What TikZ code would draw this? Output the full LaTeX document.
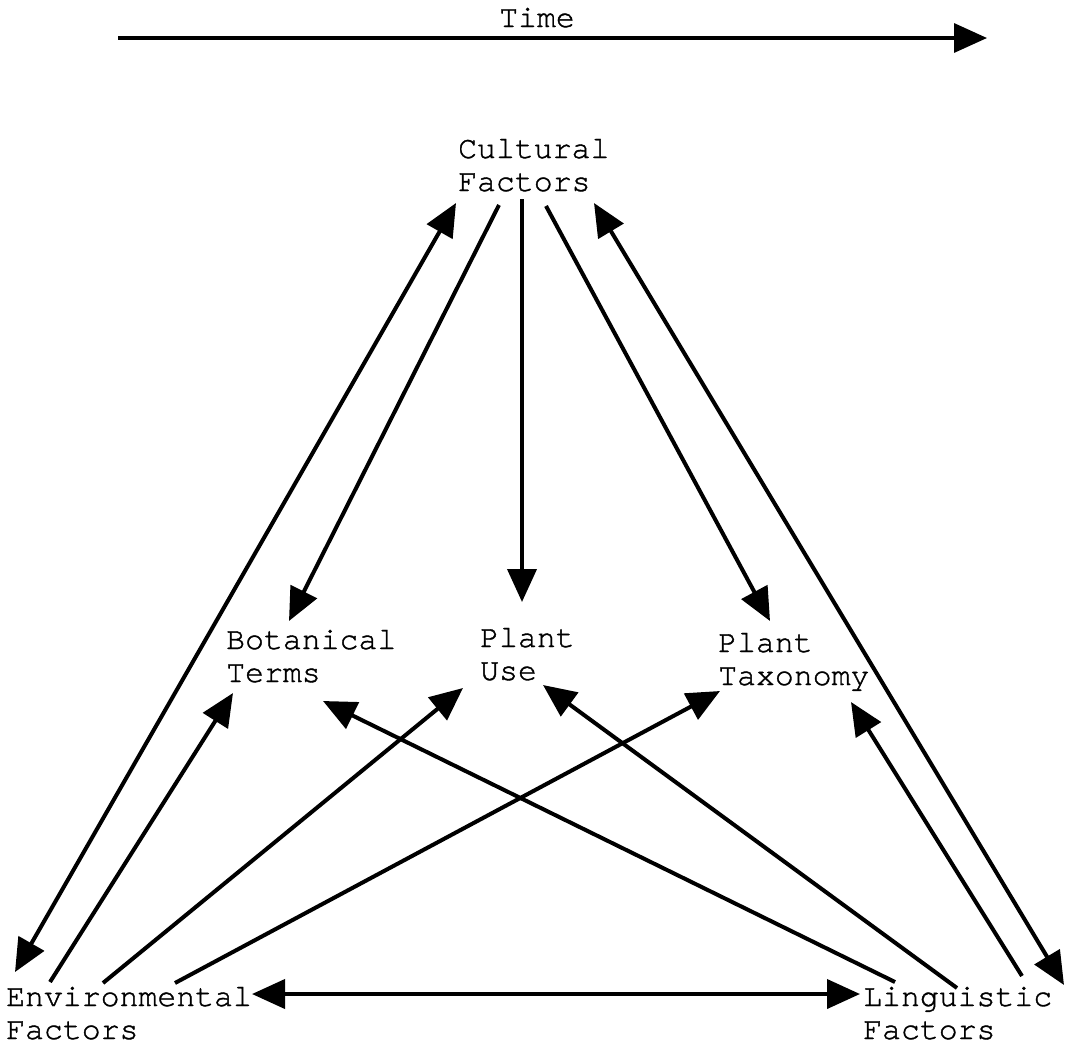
\documentclass[tikz,border=0pt]{standalone}
\usepackage{fontspec}
\setmainfont{texgyrecursor-regular.otf}[FakeBold=1.2]
\usetikzlibrary{arrows.meta}
\begin{document}
\begin{tikzpicture}[x=1pt,y=-1pt,
  lbl/.style={anchor=base west, inner sep=0pt, font=\fontsize{31.5}{33}\selectfont},
  tip/.tip={Triangle[length=33pt,width=29pt]},
  conn/.style={line width=4pt, -tip},
  bconn/.style={line width=4pt, tip-tip}]
\useasboundingbox (0,0) rectangle (1067,1047);
% labels
\node[lbl, anchor=base] (time) at (537,27) {Time};
\node[lbl] (cult) at (458,158) {\vtop{\hbox{Cultural}\hbox{Factors}}};
\node[lbl] (bot) at (226,649) {\vtop{\hbox{Botanical}\hbox{Terms}}};
\node[lbl] (use) at (480,647) {\vtop{\hbox{Plant}\hbox{Use}}};
\node[lbl] (tax) at (718,652) {\vtop{\hbox{Plant}\hbox{Taxonomy}}};
\node[lbl] (env) at (6,1006) {\vtop{\hbox{Environmental}\hbox{Factors}}};
\node[lbl] (ling) at (863,1006) {\vtop{\hbox{Linguistic}\hbox{Factors}}};
% endpoints
\coordinate (t0) at (118,38);
\coordinate (t1) at (987,38);
\coordinate (envA) at (15,972);   \coordinate (cultA) at (456,203);
\coordinate (envB) at (50,982);   \coordinate (botB) at (233,693);
\coordinate (envC) at (103,983);  \coordinate (useC) at (463,688);
\coordinate (envD) at (175,983);  \coordinate (taxD) at (720,691);
\coordinate (envE) at (252,994);  \coordinate (lingE) at (860,994);
\coordinate (cultF) at (499,205); \coordinate (botF) at (289,621);
\coordinate (cultG) at (522,199); \coordinate (useG) at (522,602);
\coordinate (cultH) at (546,206); \coordinate (taxH) at (770,621);
\coordinate (lingI) at (1064,985); \coordinate (cultI) at (594,203);
\coordinate (lingJ) at (895,982); \coordinate (botJ) at (323,701);
\coordinate (lingK) at (957,988); \coordinate (useK) at (543,685);
\coordinate (lingL) at (1022,976); \coordinate (taxL) at (851,702);
% connectors
\draw[line width=3.4pt, -tip] (t0) -- (t1);
\draw[bconn] (envA) -- (cultA);
\draw[conn] (envB) -- (botB);
\draw[conn] (envC) -- (useC);
\draw[conn] (envD) -- (taxD);
\draw[bconn] (envE) -- (lingE);
\draw[conn] (cultF) -- (botF);
\draw[conn] (cultG) -- (useG);
\draw[conn] (cultH) -- (taxH);
\draw[bconn] (lingI) -- (cultI);
\draw[conn] (lingJ) -- (botJ);
\draw[conn] (lingK) -- (useK);
\draw[conn] (lingL) -- (taxL);
\end{tikzpicture}
\end{document}
